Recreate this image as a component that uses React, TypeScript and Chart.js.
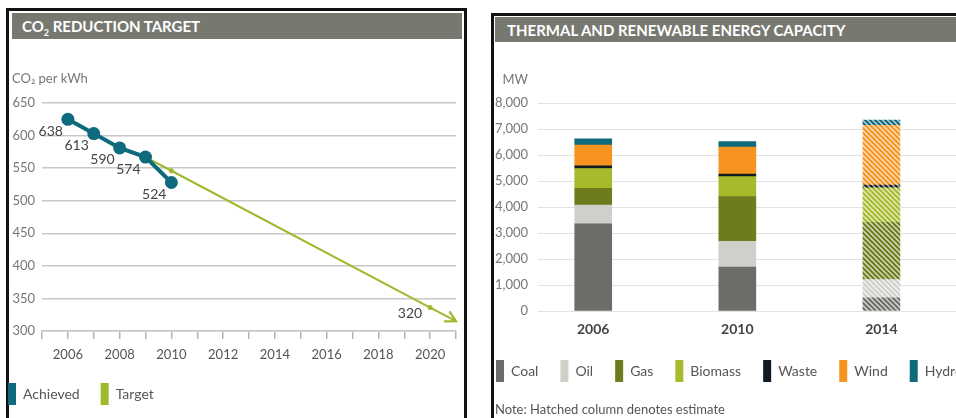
import React, { useEffect, useRef } from 'react';
import { Chart, registerables } from 'chart.js';

Chart.register(...registerables);
Chart.defaults.font.family = 'Lato, "Open Sans", sans-serif';

// ---- CO2 reduction target ----
const co2Years = [2006, 2007, 2008, 2009, 2010];
const co2Achieved = [625, 603, 581, 567, 528];
const co2AchievedLabels = ['638', '613', '590', '574', '524'];
const targetYears = [2009, 2010, 2020, 2021];
const co2Target = [567, 546, 336, 315];
const co2TargetLabels = ['', '', '320', ''];
const co2XTickLabels = [2006, 2008, 2010, 2012, 2014, 2016, 2018, 2020];

// ---- Thermal and renewable energy capacity ----
const capYears = [2006, 2010, 2014];
const capEstimated = [false, false, true];
const seriesNames = ['Coal', 'Oil', 'Gas', 'Biomass', 'Waste', 'Wind', 'Hydro'];
const coal = [3350, 1690, 510];
const oil = [725, 990, 700];
const gas = [640, 1720, 2200];
const biomass = [765, 770, 1330];
const waste = [100, 100, 100];
const wind = [805, 1035, 2300];
const hydro = [240, 215, 200];
const seriesValues = [coal, oil, gas, biomass, waste, wind, hydro];
const seriesColors = ['#6b6e68', '#cfd0c9', '#6f7c1d', '#a6ba2b', '#111a22', '#f7941f', '#0f6a7c'];

function mixWhite(hex: string, t: number) {
  const n = parseInt(hex.slice(1), 16);
  const r = (n >> 16) & 255, g = (n >> 8) & 255, b = n & 255;
  const m = (c: number) => Math.round(c + (255 - c) * t);
  return `rgb(${m(r)},${m(g)},${m(b)})`;
}

function makeHatch(color: string): CanvasPattern | string {
  const size = 5;
  const c = document.createElement('canvas');
  c.width = size;
  c.height = size;
  const g = c.getContext('2d');
  if (!g) return color;
  g.fillStyle = mixWhite(color, 0.7);
  g.fillRect(0, 0, size, size);
  g.strokeStyle = color;
  g.lineWidth = 2;
  g.beginPath();
  for (const o of [-size, 0, size]) {
    g.moveTo(o - 1, -1);
    g.lineTo(o + size + 1, size + 1);
  }
  g.stroke();
  const p = g.createPattern(c, 'repeat');
  return p || color;
}

const legendLabels = (chart: any) =>
  chart.data.datasets.map((ds: any, i: number) => ({
    text: ds.label,
    fillStyle: ds.legendColor,
    strokeStyle: ds.legendColor,
    lineWidth: 0,
    hidden: false,
    datasetIndex: i,
    fontColor: '#555',
  }));

export default function App() {
  const leftRef = useRef<HTMLCanvasElement>(null);
  const rightRef = useRef<HTMLCanvasElement>(null);

  useEffect(() => {
    if (!leftRef.current || !rightRef.current) return;

    const co2Plugin = {
      id: 'co2Extras',
      afterDatasetsDraw(chart: any) {
        const ctx = chart.ctx;
        const area = chart.chartArea;
        ctx.save();
        // unit label
        ctx.fillStyle = '#777';
        ctx.font = '13px Lato, sans-serif';
        ctx.textAlign = 'left';
        ctx.textBaseline = 'middle';
        ctx.fillText('CO₂ per kWh', area.left - 30, area.top - 24);
        // achieved value labels
        ctx.fillStyle = '#444';
        ctx.font = '14px Lato, sans-serif';
        ctx.textAlign = 'right';
        const a = chart.getDatasetMeta(0).data;
        a.forEach((pt: any, i: number) => {
          ctx.fillText(co2AchievedLabels[i], pt.x - 5, pt.y + 12);
        });
        const t = chart.getDatasetMeta(1).data;
        t.forEach((pt: any, i: number) => {
          if (co2TargetLabels[i]) ctx.fillText(co2TargetLabels[i], pt.x - 8, pt.y + 6);
        });
        // arrow head on target
        const p1 = t[t.length - 1];
        const p0 = t[t.length - 2];
        const ang = Math.atan2(p1.y - p0.y, p1.x - p0.x);
        ctx.strokeStyle = '#9cba2b';
        ctx.lineWidth = 2.2;
        ctx.lineCap = 'round';
        ctx.beginPath();
        ctx.moveTo(p1.x - 11 * Math.cos(ang - 0.5), p1.y - 11 * Math.sin(ang - 0.5));
        ctx.lineTo(p1.x, p1.y);
        ctx.lineTo(p1.x - 11 * Math.cos(ang + 0.5), p1.y - 11 * Math.sin(ang + 0.5));
        ctx.stroke();
        ctx.restore();
      },
    };

    const left = new Chart(leftRef.current, {
      type: 'line',
      data: {
        datasets: [
          {
            label: 'Achieved',
            legendColor: '#0e6a7d',
            data: co2Years.map((x, i) => ({ x, y: co2Achieved[i] })),
            borderColor: '#0e6a7d',
            backgroundColor: '#0e6a7d',
            borderWidth: 4,
            pointRadius: 6.5,
            pointBorderWidth: 0,
            pointBackgroundColor: '#0e6a7d',
          } as any,
          {
            label: 'Target',
            legendColor: '#9cba2b',
            data: targetYears.map((x, i) => ({ x, y: co2Target[i] })),
            borderColor: '#9cba2b',
            backgroundColor: '#9cba2b',
            borderWidth: 2,
            pointRadius: targetYears.map((_, i) => (i === 0 || i === targetYears.length - 1 ? 0 : 2.5)),
            pointBorderWidth: 0,
            pointBackgroundColor: '#9cba2b',
          } as any,
        ],
      },
      options: {
        responsive: false,
        animation: false,
        devicePixelRatio: 1,
        layout: { padding: { left: 0, right: 4, top: 59, bottom: 3 } },
        scales: {
          x: {
            type: 'linear',
            min: 2005,
            max: 2021,
            ticks: {
              stepSize: 1,
              autoSkip: false,
              maxRotation: 0,
              color: '#555',
              font: { size: 13 },
              padding: 8,
              callback: (v: any) => (co2XTickLabels.includes(Number(v)) ? String(v) : ''),
            },
            grid: { drawOnChartArea: false, drawTicks: true, tickLength: 8, color: '#b5b5b5', lineWidth: 1.5 },
            border: { display: true, color: '#c8c8c8', width: 1.5 },
            afterFit: (s: any) => {
              s.height = 31;
            },
          },
          y: {
            min: 300,
            max: 650,
            ticks: { stepSize: 50, color: '#777', font: { size: 13 }, crossAlign: 'near', padding: 7 },
            grid: { color: '#c8c8c8', lineWidth: 1.5, drawTicks: false },
            border: { display: false },
            afterFit: (s: any) => {
              s.width = 55;
            },
          },
        },
        plugins: {
          legend: {
            position: 'bottom',
            align: 'start',
            labels: { boxWidth: 8, boxHeight: 22, padding: 21, color: '#555', font: { size: 14 }, generateLabels: legendLabels },
          },
          tooltip: { enabled: false },
        },
      } as any,
      plugins: [co2Plugin],
    });

    const capPlugin = {
      id: 'capExtras',
      afterDraw(chart: any) {
        const ctx = chart.ctx;
        const area = chart.chartArea;
        ctx.save();
        ctx.fillStyle = '#777';
        ctx.font = '13px Lato, sans-serif';
        ctx.textAlign = 'right';
        ctx.textBaseline = 'middle';
        ctx.fillText('MW', area.left - 10, area.top - 23);
        ctx.restore();
      },
    };

    const right = new Chart(rightRef.current, {
      type: 'bar',
      data: {
        datasets: seriesNames.map((name, s) => ({
          label: name,
          legendColor: seriesColors[s],
          data: capYears.map((x, i) => ({ x, y: seriesValues[s][i] })),
          backgroundColor: capEstimated.map((est) => (est ? makeHatch(seriesColors[s]) : seriesColors[s])),
          borderWidth: 0,
          barThickness: 37,
        })) as any,
      },
      options: {
        responsive: false,
        animation: false,
        devicePixelRatio: 1,
        layout: { padding: { left: 0, right: 0, top: 59, bottom: 26 } },
        scales: {
          x: {
            type: 'linear',
            stacked: true,
            offset: false,
            min: 2004.467,
            max: 2017.68,
            afterBuildTicks: (s: any) => {
              s.ticks = capYears.map((v) => ({ value: v }));
            },
            ticks: {
              color: '#444',
              font: { size: 14, weight: 'bold' },
              padding: 10,
              maxRotation: 0,
              autoSkip: false,
              callback: (v: any) => String(v),
            },
            grid: { display: false, drawTicks: false, offset: false },
            border: { display: false },
            afterFit: (s: any) => {
              s.height = 27;
            },
          },
          y: {
            stacked: true,
            min: 0,
            max: 8000,
            ticks: {
              stepSize: 1000,
              color: '#777',
              font: { size: 13 },
              crossAlign: 'near',
              padding: 10,
              callback: (v: any) => Number(v).toLocaleString('en-US'),
            },
            grid: { color: '#e2e2e2', lineWidth: 1, drawTicks: false },
            border: { display: false },
            afterFit: (s: any) => {
              s.width = 64;
            },
          },
        },
        plugins: {
          legend: {
            position: 'bottom',
            align: 'start',
            labels: { boxWidth: 8, boxHeight: 22, padding: 22, color: '#555', font: { size: 14 }, generateLabels: legendLabels },
          },
          tooltip: { enabled: false },
        },
      } as any,
      plugins: [capPlugin],
    });

    return () => {
      left.destroy();
      right.destroy();
    };
  }, []);

  const titleStyle: React.CSSProperties = {
    position: 'absolute',
    background: '#777970',
    color: '#fff',
    fontWeight: 'bold',
    fontSize: 15,
    lineHeight: '26px',
    boxSizing: 'border-box',
    whiteSpace: 'nowrap',
    fontFamily: 'Lato, sans-serif',
  };

  return (
    <div
      style={{
        position: 'absolute',
        left: 0,
        top: 0,
        width: 956,
        height: 418,
        overflow: 'hidden',
        background: '#fff',
        fontFamily: 'Lato, sans-serif',
      }}
    >
      <div style={{ position: 'absolute', left: 6, top: 8, width: 461, height: 440, border: '3px solid #111', boxSizing: 'border-box' }} />
      <div style={{ ...titleStyle, left: 12, top: 13, width: 450, height: 26, paddingLeft: 10 }}>
        CO<sub style={{ fontSize: 9, lineHeight: 0 }}>2</sub> REDUCTION TARGET
      </div>
      <div style={{ position: 'absolute', left: 491, top: 13, width: 500, height: 440, border: '3px solid #111', boxSizing: 'border-box' }} />
      <div style={{ ...titleStyle, left: 495, top: 17, width: 480, height: 25, paddingLeft: 12 }}>
        THERMAL AND RENEWABLE ENERGY CAPACITY
      </div>
      <canvas ref={leftRef} width={477} height={374} style={{ position: 'absolute', left: -13, top: 44, width: 477, height: 374 }} />
      <canvas ref={rightRef} width={540} height={374} style={{ position: 'absolute', left: 474, top: 44, width: 540, height: 374 }} />
      <div style={{ position: 'absolute', left: 495, top: 401, fontSize: 13, color: '#555', whiteSpace: 'nowrap' }}>
        Note: Hatched column denotes estimate
      </div>
    </div>
  );
}
